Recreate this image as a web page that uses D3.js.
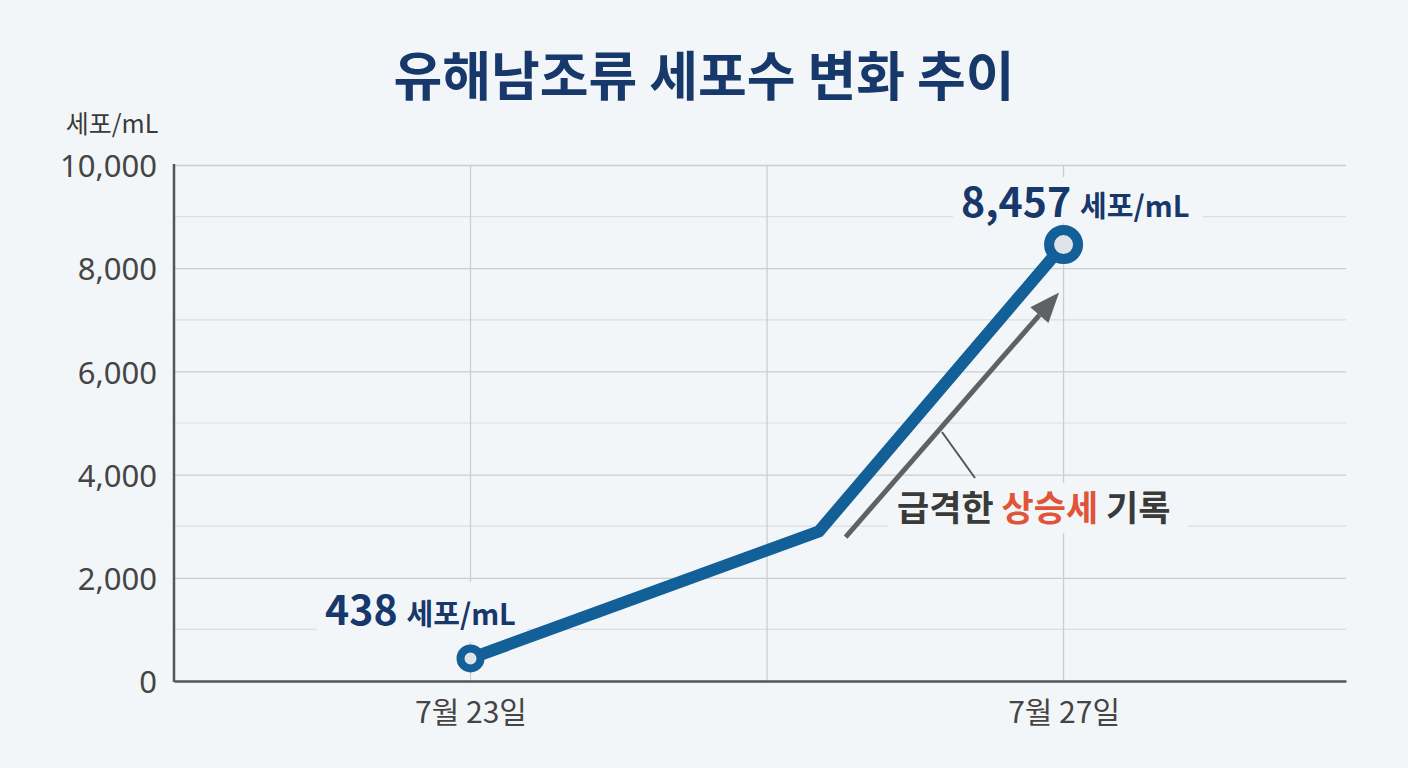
<!DOCTYPE html>
<html><head><meta charset="utf-8">
<script src="https://cdn.jsdelivr.net/npm/d3@7"></script>
<style>
html,body{margin:0;padding:0;background:#f3f6f9;}
svg{display:block;}
</style></head>
<body>
<svg id="chart" width="1408" height="768"></svg>
<script>
// ---- data ----
const titleText = "유해남조류 세포수 변화 추이";
const yUnit = "세포/mL";
const days = [23, 25.35, 27];          // day of July
const cells = [438, 2900, 8457];       // cells per mL
const xTickDays = [23, 27];
const xTickLabels = ["7월 23일", "7월 27일"];
const xGridDays = [23, 25, 27];
const yTicks = [0, 2000, 4000, 6000, 8000, 10000];
const yMinor = [1000, 3000, 5000, 7000, 9000];
const arrowFrom = [25.53, 2790];
const arrowTo = [26.97, 7530];
const noteParts = [["급격한 ", "#3a3a3a"], ["상승세", "#e0553a"], [" 기록", "#3a3a3a"]];

const bg = "#f3f6f9";
const svg = d3.select("#chart");
svg.append("rect").attr("width",1408).attr("height",768).attr("fill",bg);

const x = d3.scaleLinear().domain([21, 28.905]).range([174, 1346]);
const y = d3.scaleLinear().domain([0, 10000]).range([681, 165]);

// title
svg.append("text").attr("x",704).attr("y",96).attr("text-anchor","middle")
  .attr("font-family","'Noto Sans CJK KR'").attr("font-weight",700)
  .attr("font-size",53).attr("fill","#17386a").text(titleText);

// unit label
svg.append("text").attr("x",112).attr("y",133).attr("text-anchor","middle")
  .attr("font-family","'Noto Sans CJK KR'").attr("font-size",25).attr("fill","#3a3a3a").text(yUnit);

// minor gridlines
svg.append("g").selectAll("line").data(yMinor).join("line")
  .attr("x1",174).attr("x2",1346).attr("y1",d=>y(d)).attr("y2",d=>y(d))
  .attr("stroke","#dadee3").attr("stroke-width",1.2);

// major gridlines
const yAxis = svg.append("g").attr("transform","translate(174,0)")
  .call(d3.axisLeft(y).tickValues(yTicks).tickSize(-(1346-174)).tickFormat(d3.format(",")));
yAxis.select(".domain").remove();
yAxis.selectAll(".tick line").attr("stroke", d => d===0 ? "none" : "#c9ced3").attr("stroke-width",1.3);
yAxis.selectAll(".tick text").attr("x",-17).attr("dy","0.38em")
  .attr("font-family","'Noto Sans','Noto Sans CJK KR'").attr("font-size",31).attr("fill","#454545");

// vertical gridlines
svg.append("g").selectAll("line").data(xGridDays).join("line")
  .attr("x1",d=>x(d)).attr("x2",d=>x(d)).attr("y1",165).attr("y2",681)
  .attr("stroke","#c9ced3").attr("stroke-width",1.3);

// x axis
const xAxis = svg.append("g").attr("transform","translate(0,681)")
  .call(d3.axisBottom(x).tickValues(xTickDays).tickSize(0).tickFormat((d,i)=>xTickLabels[i]));
xAxis.select(".domain").attr("stroke","#555").attr("stroke-width",2.5);
xAxis.selectAll(".tick text").attr("y",42).attr("dy",0)
  .attr("font-family","'Noto Sans CJK KR'").attr("font-size",30).attr("fill","#454545");

// left axis line
svg.append("line").attr("x1",174).attr("x2",174).attr("y1",164).attr("y2",682)
  .attr("stroke","#555").attr("stroke-width",2.5);

// label background helper
function bgRect(x0,y0,w,h){
  svg.append("rect").attr("x",x0).attr("y",y0).attr("width",w).attr("height",h).attr("fill",bg);
}
bgRect(317,582,210,60);
bgRect(953,177,250,46);
bgRect(888,483,300,50);

// arrow
const ax0 = x(arrowFrom[0]), ay0 = y(arrowFrom[1]), ax1 = x(arrowTo[0]), ay1 = y(arrowTo[1]);
const ang = Math.atan2(ay1-ay0, ax1-ax0);
const hl = 30, hw = 12;
const bx = ax1 - hl*Math.cos(ang), by = ay1 - hl*Math.sin(ang);
svg.append("line").attr("x1",ax0).attr("y1",ay0).attr("x2",bx).attr("y2",by)
  .attr("stroke","#5f6164").attr("stroke-width",5);
svg.append("path").attr("d",`M${ax1},${ay1}L${bx - hw*Math.sin(ang)},${by + hw*Math.cos(ang)}L${bx + hw*Math.sin(ang)},${by - hw*Math.cos(ang)}Z`)
  .attr("fill","#5f6164");

// leader line
svg.append("line").attr("x1",942).attr("y1",432).attr("x2",975).attr("y2",478)
  .attr("stroke","#555").attr("stroke-width",2);

// note label
const note = svg.append("text").attr("x",897).attr("y",521)
  .attr("font-family","'Noto Sans CJK KR'").attr("font-weight",700).attr("font-size",35);
noteParts.forEach(p=>note.append("tspan").attr("fill",p[1]).text(p[0]));

// line
const pts = days.map((d,i)=>[x(d), y(cells[i])]);
svg.append("path").attr("d", d3.line()(pts)).attr("fill","none")
  .attr("stroke","#135f98").attr("stroke-width",12).attr("stroke-linejoin","miter");

// markers
svg.append("circle").attr("cx",x(days[0])).attr("cy",y(cells[0])).attr("r",10)
  .attr("fill","#dfe4ea").attr("stroke","#135f98").attr("stroke-width",8);
svg.append("circle").attr("cx",x(days[2])).attr("cy",y(cells[2])).attr("r",14.5)
  .attr("fill","#dfe4ea").attr("stroke","#135f98").attr("stroke-width",10);

// value labels
function valueLabel(x0, yb, num){
  const t = svg.append("text").attr("x",x0).attr("y",yb)
    .attr("font-family","'Noto Sans CJK KR'").attr("font-weight",700).attr("fill","#17386a");
  t.append("tspan").attr("font-size",41).text(d3.format(",")(num));
  t.append("tspan").attr("font-size",29).attr("dx",9).text(yUnit);
}
valueLabel(325, 625, cells[0]);
valueLabel(961, 217, cells[2]);
</script>
</body></html>
